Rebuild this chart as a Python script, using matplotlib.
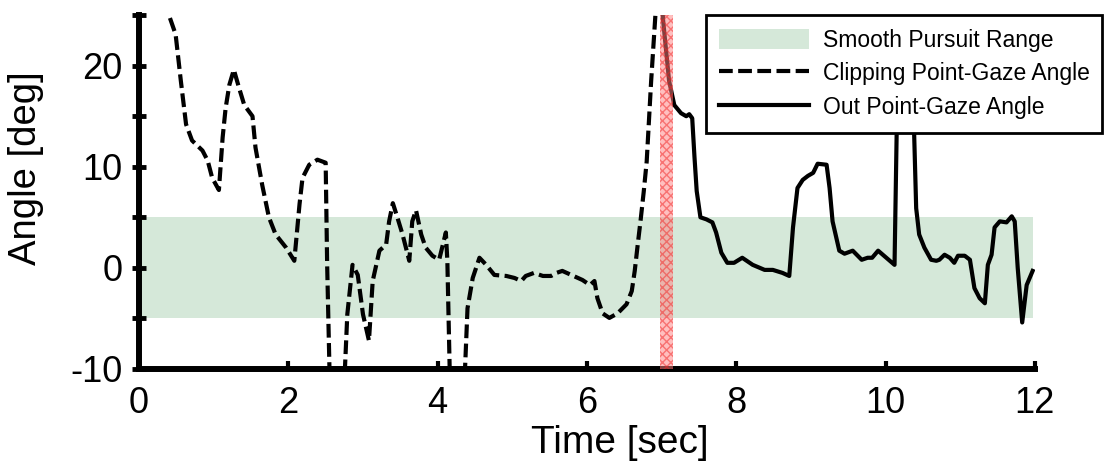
import matplotlib
matplotlib.use("Agg")
import matplotlib.pyplot as plt

# Clipping point-gaze angle (dashed)
clip_t = [0.33, 0.49, 0.56, 0.63, 0.71, 0.85, 0.92, 0.98, 1.07, 1.12, 1.16, 1.21, 1.27, 1.34, 1.41,
	1.52, 1.56, 1.65, 1.74, 1.83, 1.97, 2.08, 2.15, 2.19, 2.28, 2.39, 2.50, 2.52, 2.56, 2.74,
	2.79, 2.86, 2.93, 3.00, 3.08, 3.13, 3.22, 3.31, 3.35, 3.40, 3.46, 3.53, 3.62, 3.66, 3.71,
	3.78, 3.84, 3.93, 4.02, 4.07, 4.11, 4.13, 4.17, 4.35, 4.40, 4.47, 4.56, 4.65, 4.76, 4.92,
	5.03, 5.12, 5.18, 5.29, 5.41, 5.52, 5.59, 5.67, 5.79, 5.94, 6.04, 6.10, 6.14, 6.21, 6.30,
	6.41, 6.53, 6.60, 6.64, 6.68, 6.72, 6.76, 6.80, 6.86, 6.93]
clip_v = [26.5, 23.1, 18.5, 14.2, 12.6, 11.6, 10.6, 8.9, 7.7, 12.9, 15.8, 18.1, 19.6, 17.8, 16.1,
	15.0, 11.9, 8.2, 5.0, 3.3, 2.0, 0.7, 6.3, 8.9, 10.2, 10.7, 10.4, 0.3, -13, -13,
	-4.6, 0.3, -0.7, -4.6, -7.2, -1.3, 1.7, 2.3, 4.6, 6.4, 5.0, 3.3, 0.7, 4.6, 5.7,
	3.3, 2.0, 1.2, 0.8, 2.3, 3.5, 0.7, -13, -13, -4.0, -1.0, 1.0, 0.3, -0.7, -0.8,
	-1.0, -1.3, -0.8, -0.5, -0.8, -0.8, -0.5, -0.3, -0.7, -1.2, -1.7, -1.3, -3.0, -4.5, -4.95,
	-4.5, -3.6, -2.3, -0.3, 2.3, 4.8, 7.5, 10.5, 18.5, 26.5]

# Out point-gaze angle (solid)
out_t = [7.00, 7.02, 7.06, 7.10, 7.17, 7.26, 7.33, 7.37, 7.41, 7.44, 7.47, 7.52, 7.60, 7.68, 7.73,
	7.80, 7.88, 7.97, 8.08, 8.22, 8.38, 8.49, 8.62, 8.71, 8.76, 8.82, 8.89, 8.96, 9.03, 9.09,
	9.21, 9.25, 9.29, 9.38, 9.45, 9.56, 9.68, 9.76, 9.82, 9.90, 10.01, 10.12, 10.15, 10.18, 10.35,
	10.38, 10.41, 10.45, 10.52, 10.61, 10.68, 10.72, 10.79, 10.86, 10.92, 10.97, 11.06, 11.13, 11.19,
	11.26, 11.33, 11.37, 11.42, 11.46, 11.53, 11.62, 11.69, 11.73, 11.77, 11.83, 11.89, 11.97]
out_v = [27, 24.5, 21.5, 18.5, 16.1, 15.3, 15.0, 15.2, 14.8, 11.0, 7.6, 5.0, 4.8, 4.5, 3.5,
	1.5, 0.5, 0.5, 1.0, 0.3, -0.2, -0.2, -0.5, -0.8, 4.0, 7.9, 8.7, 9.1, 9.4, 10.3,
	10.2, 7.9, 4.6, 1.7, 1.4, 1.7, 0.8, 1.0, 1.0, 1.7, 1.0, 0.3, 14, 28, 28,
	14, 5.9, 3.3, 2.0, 0.8, 0.7, 0.8, 1.3, 1.0, 0.5, 1.2, 1.2, 0.8, -2.0,
	-3.0, -3.5, 0.3, 1.3, 4.0, 4.6, 4.5, 5.1, 4.6, 0.0, -5.4, -1.7, -0.3]

# smooth pursuit band and the marked event
band_t = [0, 11.97]
band_lo = -5
band_hi = 5
event_t = [6.98, 7.15]

x_ticks = [0, 2, 4, 6, 8, 10, 12]
y_ticks = [-10, -5, 0, 5, 10, 15, 20, 25]
y_labels = ['-10', '', '0', '', '10', '', '20', '']


def main():
	plt.rcParams['font.family'] = ['Liberation Sans', 'DejaVu Sans']
	fig = plt.figure(figsize=(11.06, 4.75), dpi=100)
	ax = fig.add_axes([0.1257, 0.2232, 0.810, 0.745])

	ax.fill_between(band_t, band_lo, band_hi, color='#d5e8d9', linewidth=0,
		label='Smooth Pursuit Range', zorder=1)
	ax.plot(clip_t, clip_v, color='black', linewidth=3, dashes=(3.3, 1.3),
		label='Clipping Point-Gaze Angle', zorder=3)
	ax.plot(out_t, out_v, color='black', linewidth=3, label='Out Point-Gaze Angle', zorder=3)
	ax.axvspan(event_t[0], event_t[1], facecolor=(1, 0.5, 0.5, 0.5), edgecolor=(0.95, 0.15, 0.15, 0.5),
		hatch='xxxx', linewidth=0, zorder=4)

	ax.set_xlim(0, 12)
	ax.set_ylim(-10, 25)
	ax.set_xticks(x_ticks)
	ax.set_yticks(y_ticks)
	ax.set_yticklabels(y_labels)

	for side in ['top', 'right']:
		ax.spines[side].set_visible(False)
	for side in ['left', 'bottom']:
		ax.spines[side].set_linewidth(4.3)
	ax.tick_params(axis='x', direction='in', length=6, width=3, pad=12, labelsize=26)
	ax.tick_params(axis='y', direction='inout', length=10, width=3.5, pad=7, labelsize=26)

	ax.set_xlabel('Time [sec]', fontsize=28)
	ax.xaxis.set_label_coords(0.537, -0.158)
	ax.set_ylabel('Angle [deg]', fontsize=27.5)
	ax.yaxis.set_label_coords(-0.106, 0.568)

	leg = ax.legend(loc='upper left', bbox_to_anchor=(0.638, 0.722, 0.358, 0.246),
		bbox_transform=fig.transFigure, mode='expand', fontsize=16.5, frameon=True,
		fancybox=False, framealpha=1, edgecolor='black', borderaxespad=0,
		handlelength=3.9, handleheight=1.0, handletextpad=0.6, labelspacing=0.45, borderpad=0.6)
	leg.get_frame().set_linewidth(2)
	leg.set_zorder(10)

	fig.savefig('out.png', dpi=100)


if __name__ == "__main__":
	main()
